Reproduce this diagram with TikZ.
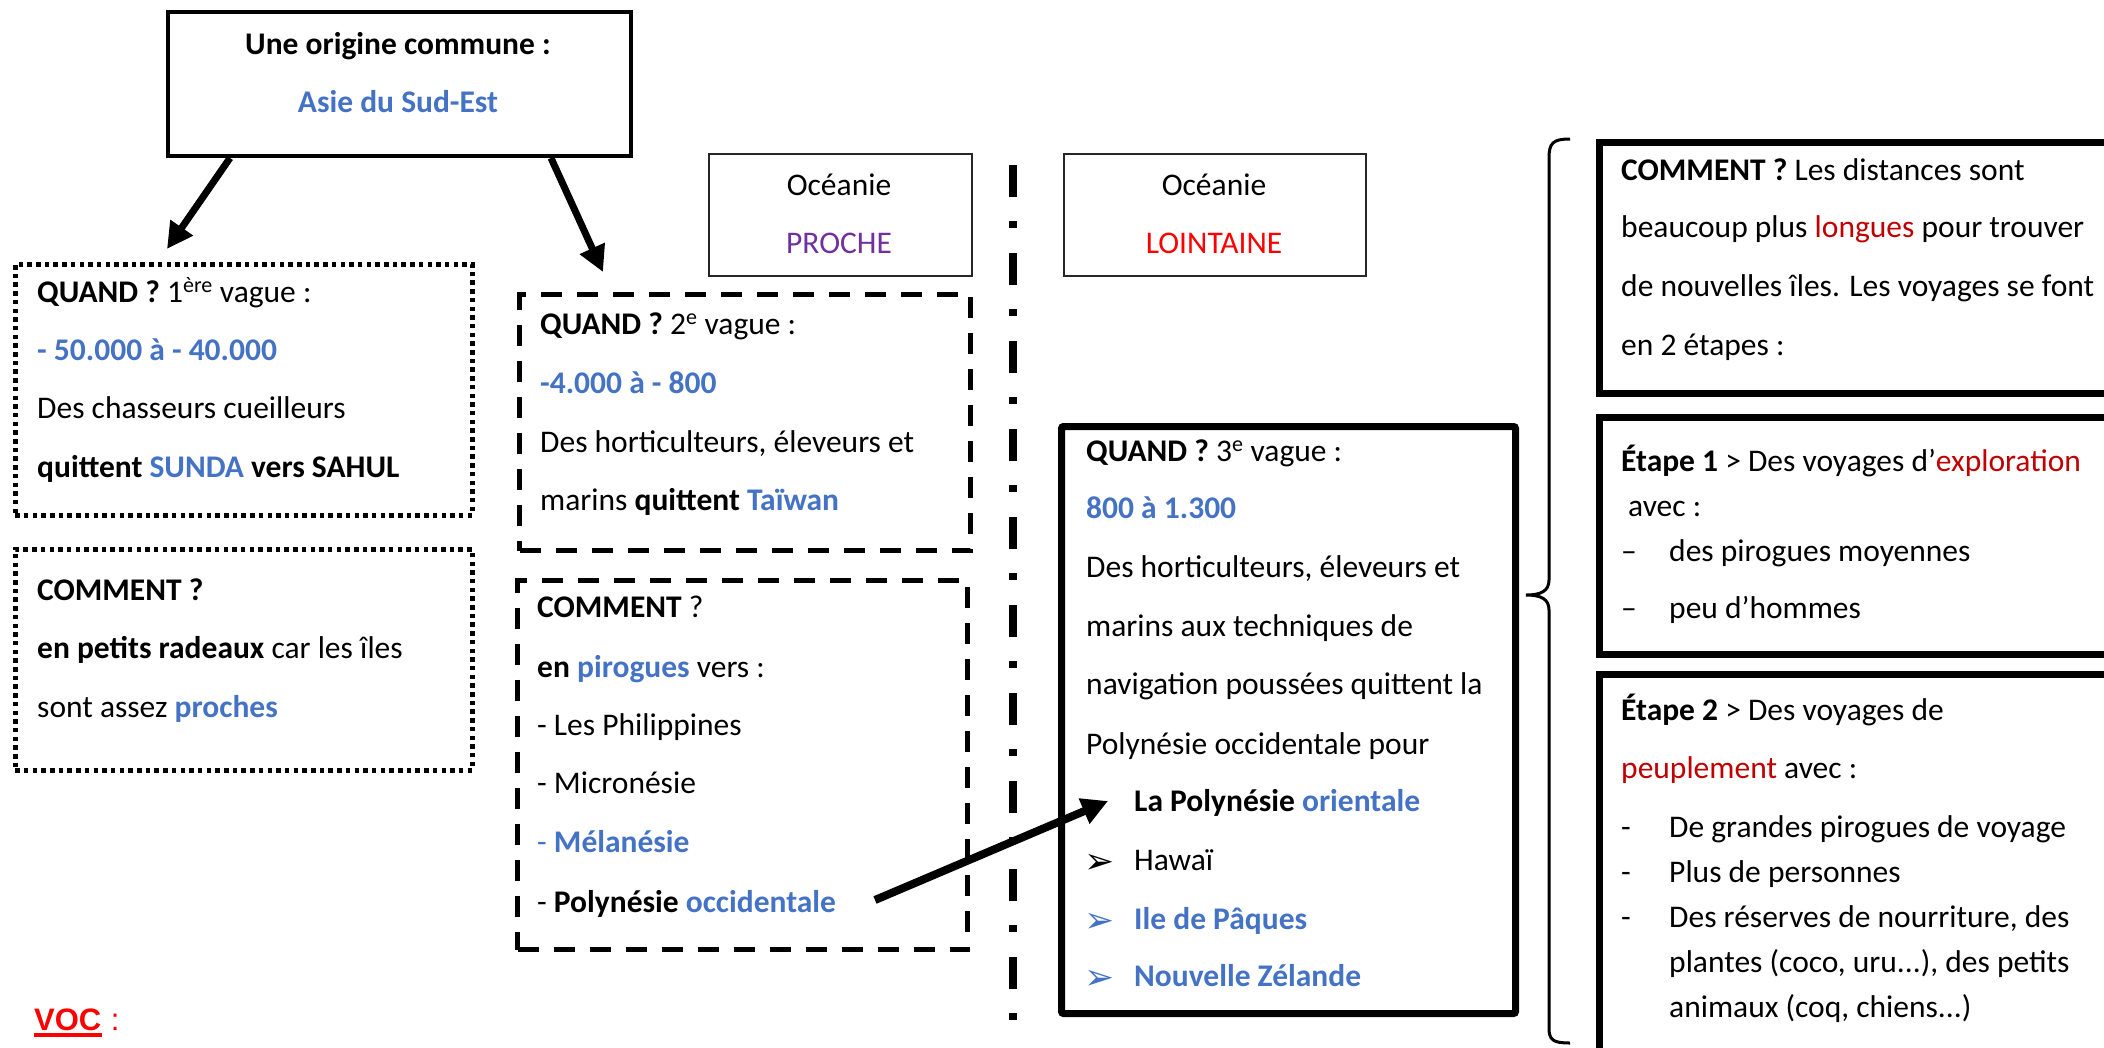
\documentclass[tikz,border=0pt]{standalone}
\usepackage{fontspec}
\setmainfont{Carlito}
\newfontfamily\arialf{Liberation Sans}
\newfontfamily\dejavu{DejaVu Sans}
\usetikzlibrary{arrows.meta}
\definecolor{cblue}{HTML}{4472C4}
\definecolor{cpurple}{HTML}{7030A0}
\definecolor{dred}{HTML}{C00000}
\definecolor{bred}{HTML}{FF0000}
\begin{document}
\begin{tikzpicture}[x=1pt,y=-1pt,
  txt/.style={anchor=base west, inner sep=0pt, font=\fontsize{31.5}{38}\selectfont},
  ctxt/.style={anchor=base, inner sep=0pt, font=\fontsize{31.5}{38}\selectfont},
  bul/.style={anchor=base west, inner sep=0pt, font=\dejavu\fontsize{36}{40}\selectfont},
  boxbase/.style={anchor=north west, inner sep=0pt, rectangle},
  dotbox/.style={boxbase, draw, line width=4.5pt, dash pattern=on 4.5pt off 4.2pt},
  dashbox/.style={boxbase, draw, line width=5pt, dash pattern=on 21pt off 15pt},
  thinbox/.style={boxbase, draw=black!85, line width=1.5pt},
  thickbox/.style={boxbase, draw, line width=7pt},
  bigarrow/.style={line width=7pt, -{Triangle[length=26pt,width=26pt]}},
]
\useasboundingbox (0,0) rectangle (2104,1047);
\clip (0,0) rectangle (2104,1047);

% ---- boxes
\node[boxbase, draw, line width=4pt, minimum width=463pt, minimum height=144pt] (origin) at (166,10) {};
\node[dotbox, minimum width=457pt, minimum height=251pt] (q1) at (13,262) {};
\node[dotbox, minimum width=457pt, minimum height=221pt] (c1) at (13,547) {};
\node[dashbox, minimum width=451pt, minimum height=256pt] (q2) at (517,292) {};
\node[dashbox, minimum width=450pt, minimum height=369pt] (c2) at (515,578) {};
\node[thinbox, minimum width=263pt, minimum height=122pt] (proche) at (708,153) {};
\node[thinbox, minimum width=302pt, minimum height=122pt] (lointaine) at (1063,153) {};
\node[thickbox, rounded corners=2pt, minimum width=454pt, minimum height=587pt] (q3) at (1058,423) {};
\node[thickbox, minimum width=528pt, minimum height=251pt] (ca) at (1596,139) {};
\node[thickbox, minimum width=528pt, minimum height=237pt] (cb) at (1596,414) {};
\node[thickbox, minimum width=528pt, minimum height=378pt] (cc) at (1596,671) {};

% ---- separator
\coordinate (sepTop) at (1013,165);
\coordinate (sepBot) at (1013,1021);
\draw[line width=8pt, dash pattern=on 32pt off 24pt on 7pt off 25pt] (sepTop) -- (sepBot);

% ---- brace
\coordinate (brTop) at (1570,139);
\coordinate (brTip) at (1526,595);
\coordinate (brBot) at (1570,1043);
\draw[line width=3pt] (brTop) .. controls (1553,139) and (1549,143) .. (1549,158)
  -- (1549,580) .. controls (1549,591) and (1541,595) .. (brTip)
  .. controls (1541,595) and (1549,599) .. (1549,610)
  -- (1549,1028) .. controls (1549,1040) and (1553,1043) .. (brBot);

% ---- top box text
\node[ctxt] (o1) at (398,54) {\textbf{Une origine commune :}};
\node[ctxt, text=cblue] (o2) at (398,112) {\textbf{Asie du Sud-Est}};

% ---- box 1
\node[txt] (q1a) at (37,302) {\textbf{QUAND ?} 1\textsuperscript{ère} vague :};
\node[txt, text=cblue] (q1b) at (37,360) {\textbf{- 50.000 à - 40.000}};
\node[txt] (q1c) at (37,418) {Des chasseurs cueilleurs};
\node[txt] (q1d) at (37,477) {\textbf{quittent \textcolor{cblue}{SUNDA} vers SAHUL}};

\node[txt] (c1a) at (37,600) {\textbf{COMMENT ?}};
\node[txt] (c1b) at (37,658) {\textbf{en petits radeaux} car les îles};
\node[txt] (c1c) at (37,717) {sont assez \textcolor{cblue}{\textbf{proches}}};

% ---- box 2
\node[txt] (q2a) at (540,334) {\textbf{QUAND ?} 2\textsuperscript{e} vague :};
\node[txt, text=cblue] (q2b) at (540,393) {\textbf{-4.000 à - 800}};
\node[txt] (q2c) at (540,452) {Des horticulteurs, éleveurs et};
\node[txt] (q2d) at (540,510) {marins \textbf{quittent} \textcolor{cblue}{\textbf{Taïwan}}};

\node[txt] (c2a) at (537,617) {\textbf{COMMENT} ?};
\node[txt] (c2b) at (537,677) {\textbf{en} \textcolor{cblue}{\textbf{pirogues}} vers :};
\node[txt] (c2c) at (537,735) {- Les Philippines};
\node[txt] (c2d) at (537,793) {- Micronésie};
\node[txt, text=cblue] (c2e) at (537,852) {- \textbf{Mélanésie}};
\node[txt] (c2f) at (537,912) {- \textbf{Polynésie} \textcolor{cblue}{\textbf{occidentale}}};

% ---- Océanie boxes
\node[ctxt] (p1) at (839,195) {Océanie};
\node[ctxt, text=cpurple] (p2) at (839,253) {PROCHE};
\node[ctxt] (l1) at (1214,195) {Océanie};
\node[ctxt, text=bred] (l2) at (1214,253) {LOINTAINE};

% ---- box 3
\node[txt] (q3a) at (1086,461) {\textbf{QUAND ?} 3\textsuperscript{e} vague :};
\node[txt, text=cblue] (q3b) at (1086,518) {\textbf{800 à 1.300}};
\node[txt] (q3c) at (1086,577) {Des horticulteurs, éleveurs et};
\node[txt] (q3d) at (1086,636) {marins aux techniques de};
\node[txt] (q3e) at (1086,694) {navigation poussées quittent la};
\node[txt] (q3f) at (1086,754) {Polynésie occidentale pour};
\node[txt] (q3g) at (1134,811) {\textbf{La Polynésie} \textcolor{cblue}{\textbf{orientale}}};
\node[bul] (b2) at (1084,873) {➢};
\node[txt] (q3h) at (1134,870) {Hawaï};
\node[bul, text=cblue] (b3) at (1084,932) {➢};
\node[txt, text=cblue] (q3i) at (1134,929) {\textbf{Ile de Pâques}};
\node[bul, text=cblue] (b4) at (1084,989) {➢};
\node[txt, text=cblue] (q3j) at (1134,986) {\textbf{Nouvelle Zélande}};

% ---- right column
\node[txt] (ra1) at (1621,180) {\textbf{COMMENT ?} Les distances sont};
\node[txt] (ra2) at (1621,237) {beaucoup plus \textcolor{dred}{longues} pour trouver};
\node[txt] (ra3) at (1621,296) {de nouvelles îles. Les voyages se font};
\node[txt] (ra4) at (1621,355) {en 2 étapes :};

\node[txt] (rb1) at (1621,471) {\textbf{Étape 1} > Des voyages d’\textcolor{dred}{exploration}};
\node[txt] (rb2) at (1628,516) {avec :};
\node[txt] (rb3d) at (1621,561) {–};
\node[txt] (rb3) at (1669,561) {des pirogues moyennes};
\node[txt] (rb4d) at (1621,618) {–};
\node[txt] (rb4) at (1669,618) {peu d’hommes};

\node[txt] (rc1) at (1621,720) {\textbf{Étape 2} > Des voyages de};
\node[txt] (rc2) at (1621,778) {\textcolor{dred}{peuplement} avec :};
\node[txt] (rc3d) at (1621,837) {-};
\node[txt] (rc3) at (1669,837) {De grandes pirogues de voyage};
\node[txt] (rc4d) at (1621,882) {-};
\node[txt] (rc4) at (1669,882) {Plus de personnes};
\node[txt] (rc5d) at (1621,927) {-};
\node[txt] (rc5) at (1669,927) {Des réserves de nourriture, des};
\node[txt] (rc6) at (1669,972) {plantes (coco, uru...), des petits};
\node[txt] (rc7) at (1669,1017) {animaux (coq, chiens...)};

% ---- VOC
\node[anchor=base west, inner sep=0pt, text=bred, font=\arialf\bfseries\fontsize{31}{36}\selectfont] (voc) at (34,1030) {VOC};
\node[anchor=base west, inner sep=0pt, text=bred, font=\arialf\fontsize{31}{36}\selectfont] (vocc) at ([xshift=9pt]voc.base east) {:};
\draw[bred, line width=4pt] ([yshift=-5pt]voc.base west) -- ([yshift=-5pt]voc.base east);

% ---- arrows
\coordinate (a1s) at (230,158);
\coordinate (a1e) at (167,249);
\coordinate (a2s) at (551,158);
\coordinate (a2e) at (603,272);
\coordinate (a3s) at (875,900);
\coordinate (a3e) at (1108,801);
\draw[bigarrow] (a1s) -- (a1e);
\draw[bigarrow] (a2s) -- (a2e);
\draw[bigarrow, line width=8pt] (a3s) -- (a3e);
\end{tikzpicture}
\end{document}
